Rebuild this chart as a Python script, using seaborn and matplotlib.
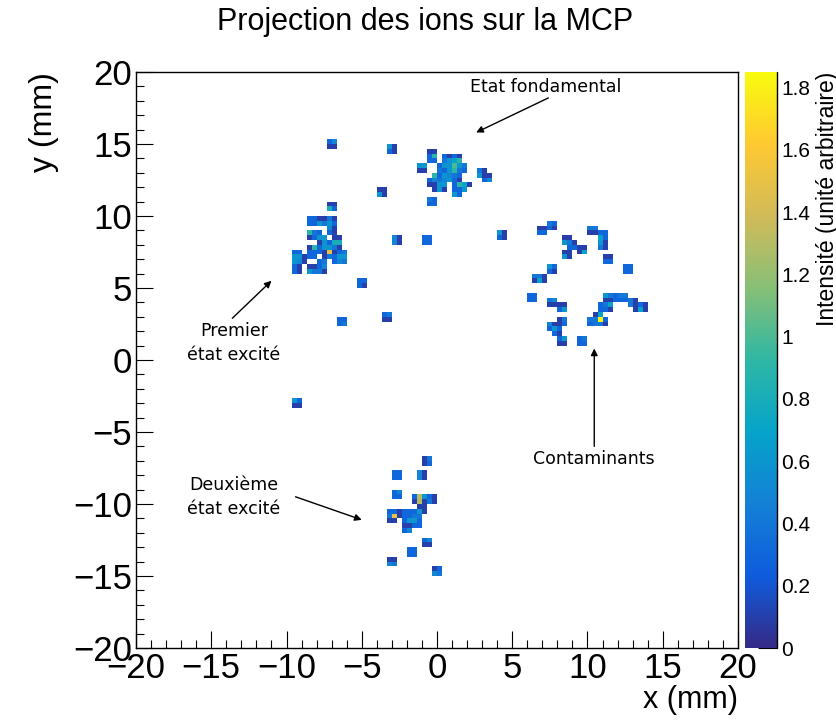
import numpy as np
import pandas as pd
import matplotlib
matplotlib.use("Agg")
from matplotlib import pyplot as plt
from matplotlib.ticker import MultipleLocator
from matplotlib.colors import LinearSegmentedColormap
import seaborn as sns

# Impacts sur la MCP.
# Chaque groupe : centre de la premiere cellule (x, y en mm), puis les lignes de
# cellules de haut en bas (pas de 1/3 mm). '.' = vide, sinon intensite = int(c, 36) / 10
patch_x0 = [-9.65, -5.17, -6.53, -7.01, -3.05, -3.75, -0.56, -2.76, -0.85, -3.40,
            -9.34, -1.23, 2.93, 4.31, 6.74, 10.24, 8.47, 11.31, 12.35, 7.41,
            6.37, 6.04, 7.41, 10.24, 7.41, 9.53, -0.94, -2.71, -1.27, -2.71,
            -3.05, -0.94, -1.98, -3.05, -0.21]
patch_y0 = [10.82, 5.60, 2.84, 15.10, 14.99, 11.86, 11.17, 8.37, 8.60, 3.00,
            -2.67, 14.64, 13.25, 8.74, 9.43, 9.08, 8.39, 7.00, 6.65, 6.65,
            5.96, 4.57, 4.22, 4.57, 2.83, 1.45, -6.89, -7.97, -7.97, -9.02,
            -9.36, -12.49, -13.18, -13.88, -14.57]
patch_rows = [
    # premier etat excite
    [".......11..", ".......83..", "...........", "...331141..", "...336463..",
     ".......51..", "...943.31..", "...1366.11.", ".....16388.", "...1936641.",
     "33.3331F134", "66133.14366", "651..34.354", "31.1135....", "31.6441...."],
    ["33", "31"], ["33", "34"], ["35", "11"], ["61", "31"], ["11", "61"],
    ["43", "33"], ["51", "51"], ["33", "33"], ["34", "11"], ["63", "11"],
    # etat fondamental
    ["..11........", "..39.3131...", "..33.4679...", "66..366A64..", "11..436943..",
     "...936543...", "..3545631...", "..1166.3971.", "...161.336..", ".......63..."],
    ["41.", "611", ".35"],
    # contaminants
    ["61", "31"], ["..43", "1131", "33.."], ["44..", "1133", "..73", "..61", "..41"],
    ["11...", "641..", ".3311", "11.17", "61..."], ["11", "33"], ["33", "33"],
    ["63", "31"], ["441", "171"], ["33", "33"], ["45..", "1111", "..36"],
    ["...64344....", "...1133341..", "..347...4131", "..331....171", ".17.........",
     "44I3........", "3441........"],
    ["..14", "5113", "363.", ".31.", "..36", "..11"], ["34", "33"],
    # deuxieme etat excite
    ["14", "13"], ["33", "33"], ["51", "51"], ["35", "33"],
    [".....3D631", ".....1D141", "......11..", "33133361..", "4F13344...",
     "11.3663...", "...1133...", "...35....."],
    ["35", "11"], ["33", "33"], ["11", "54"], ["13", "54"],
]

cbar_ticks = [0, 0.2, 0.4, 0.6, 0.8, 1, 1.2, 1.4, 1.6, 1.8]
cbar_labels = ["0", "0.2", "0.4", "0.6", "0.8", "1", "1.2", "1.4", "1.6", "1.8"]

# liste des impacts
xs, ys, ws = [], [], []
for x0, y0, rows in zip(patch_x0, patch_y0, patch_rows):
    for j, row in enumerate(rows):
        for i, c in enumerate(row):
            if c != ".":
                xs.append(x0 + i / 3)
                ys.append(y0 - j / 3)
                ws.append(int(c, 36) / 10)
df = pd.DataFrame({"x": xs, "y": ys, "w": ws})

# palette kBird de ROOT
bird = LinearSegmentedColormap.from_list("bird", [
    (0.2082, 0.1664, 0.5293), (0.0592, 0.3599, 0.8684), (0.0780, 0.5041, 0.8385),
    (0.0232, 0.6419, 0.7914), (0.1802, 0.7178, 0.6425), (0.5301, 0.7492, 0.4662),
    (0.8186, 0.7328, 0.3499), (0.9956, 0.7862, 0.1968), (0.9764, 0.9832, 0.0539)], N=255)

sns.set_style("ticks")
plt.rcParams['font.family'] = ['Liberation Sans', 'DejaVu Sans']
plt.rcParams['text.color'] = 'black'
plt.rcParams['axes.labelcolor'] = 'black'
plt.rcParams['xtick.color'] = 'black'
plt.rcParams['ytick.color'] = 'black'

fig = plt.figure(figsize=(8.37, 7.2), dpi=100)
ax = fig.add_axes([0.1625, 0.1, 0.7192, 0.8])
cax = fig.add_axes([0.890, 0.1, 0.038, 0.8])

sns.histplot(data=df, x="x", y="y", weights="w", bins=120,
             binrange=((-20, 20), (-20, 20)), cmap=bird,
             cbar=True, cbar_ax=cax, ax=ax)
mesh = ax.collections[0]
mesh.set_clim(0, 1.85)

ax.set_xlim(-20, 20)
ax.set_ylim(-20, 20)
ax.set_xticks(range(-20, 21, 5))
ax.set_yticks(range(-20, 21, 5))
ax.xaxis.set_minor_locator(MultipleLocator(1))
ax.yaxis.set_minor_locator(MultipleLocator(1))
ax.tick_params(which='both', direction='in', top=False, right=False, labelsize=25, width=0.8)
ax.tick_params(which='major', length=12, pad=3)
ax.tick_params(which='minor', length=6)
for s in ax.spines.values():
    s.set_visible(True)
    s.set_linewidth(1)
    s.set_color('black')
ax.set_xlabel("x (mm)", loc='right', fontsize=22, labelpad=0)
ax.set_ylabel("y (mm)", loc='top', fontsize=23, labelpad=10)

# barre de couleur
cbar = mesh.colorbar
cbar.outline.set_visible(False)
cbar.set_ticks(cbar_ticks)
cbar.set_ticklabels(cbar_labels)
cax.tick_params(direction='in', length=14, width=0.8, labelsize=15, pad=3, colors='black')
cax.plot([1, 1], [0, 1], transform=cax.transAxes, color='black', lw=1, clip_on=False)
cax.set_ylabel("Intensité (unité arbitraire)", loc='top', fontsize=16.5, labelpad=4)

# annotations
fs = 12.5
arrow = dict(arrowstyle='-|>', color='black', lw=1, mutation_scale=10, shrinkA=0, shrinkB=0)
ax.text(7.2, 18.95, "Etat fondamental", ha='center', va='center', fontsize=fs, family='DejaVu Sans')
ax.annotate("", xy=(2.6, 15.8), xytext=(7.4, 18.2), arrowprops=arrow)
ax.text(-13.5, 1.2, "Premier\nétat excité", ha='center', va='center', fontsize=fs,
        family='DejaVu Sans', linespacing=1.4)
ax.annotate("", xy=(-11.0, 5.5), xytext=(-13.6, 2.9), arrowprops=arrow)
ax.text(10.45, -6.9, "Contaminants", ha='center', va='center', fontsize=fs, family='DejaVu Sans')
ax.annotate("", xy=(10.45, 0.8), xytext=(10.45, -6.0), arrowprops=arrow)
ax.text(-13.5, -9.5, "Deuxième\nétat excité", ha='center', va='center', fontsize=fs,
        family='DejaVu Sans', linespacing=1.4)
ax.annotate("", xy=(-5.0, -11.1), xytext=(-9.4, -9.5), arrowprops=arrow)

fig.text(0.508, 0.969, "Projection des ions sur la MCP", ha='center', va='center', fontsize=22)

plt.savefig("out.png", dpi=100)
